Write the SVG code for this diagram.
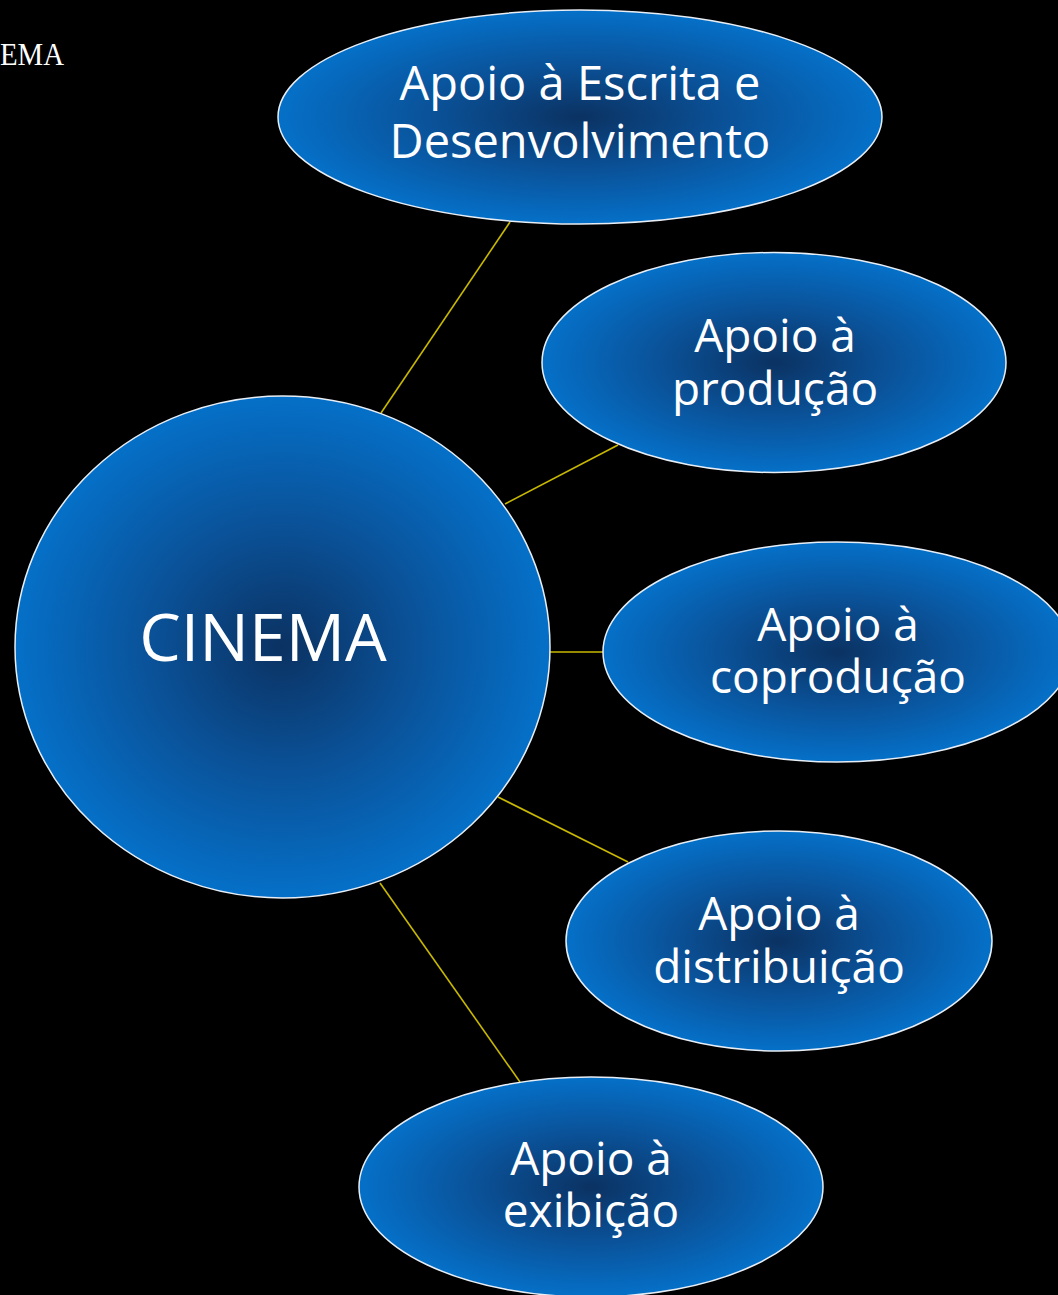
<svg xmlns="http://www.w3.org/2000/svg" width="1058" height="1295" viewBox="0 0 1058 1295">
<defs>
<radialGradient id="g" cx="0.5" cy="0.5" r="0.5">
<stop offset="0" stop-color="#0b3262"/>
<stop offset="0.5" stop-color="#0a5299"/>
<stop offset="1" stop-color="#0570c8"/>
</radialGradient>
<style>
.n{fill:url(#g);stroke:#e8eef5;stroke-width:1.5}
.t{fill:#ffffff;font-family:"Open Sans","Noto Sans",sans-serif;font-size:46px;text-anchor:middle}
.c{stroke:#c8b800;stroke-width:1.6;fill:none}
</style>
</defs>
<rect width="1058" height="1295" fill="#000"/>
<text x="0" y="65" font-family="'Liberation Serif',serif" font-size="32" fill="#fff" textLength="64" lengthAdjust="spacingAndGlyphs">EMA</text>
<g id="connectors">
<line class="c" x1="381" y1="413" x2="510" y2="222"/>
<line class="c" x1="505" y1="504" x2="618" y2="445"/>
<line class="c" x1="550" y1="652" x2="604" y2="652"/>
<line class="c" x1="498" y1="797" x2="628" y2="862"/>
<line class="c" x1="380" y1="883" x2="520" y2="1082"/>
</g>
<g id="cinema">
<ellipse class="n" cx="282.5" cy="647" rx="267.5" ry="251"/>
<text class="t" x="263" y="661" style="font-size:66px">CINEMA</text>
</g>
<g id="escrita">
<ellipse class="n" cx="580" cy="117" rx="302" ry="107"/>
<text class="t" x="580" y="100" style="font-size:47px">Apoio à Escrita e</text>
<text class="t" x="580" y="158" style="font-size:47px">Desenvolvimento</text>
</g>
<g id="producao">
<ellipse class="n" cx="774" cy="362.5" rx="232" ry="110"/>
<text class="t" x="775" y="352">Apoio à</text>
<text class="t" x="775" y="405">produção</text>
</g>
<g id="coproducao">
<ellipse class="n" cx="837" cy="652" rx="234" ry="110"/>
<text class="t" x="838" y="641">Apoio à</text>
<text class="t" x="838" y="693">coprodução</text>
</g>
<g id="distribuicao">
<ellipse class="n" cx="779" cy="941" rx="213" ry="110"/>
<text class="t" x="779" y="930">Apoio à</text>
<text class="t" x="779" y="983">distribuição</text>
</g>
<g id="exibicao">
<ellipse class="n" cx="591" cy="1187" rx="232" ry="110"/>
<text class="t" x="591" y="1175">Apoio à</text>
<text class="t" x="591" y="1227">exibição</text>
</g>
</svg>
